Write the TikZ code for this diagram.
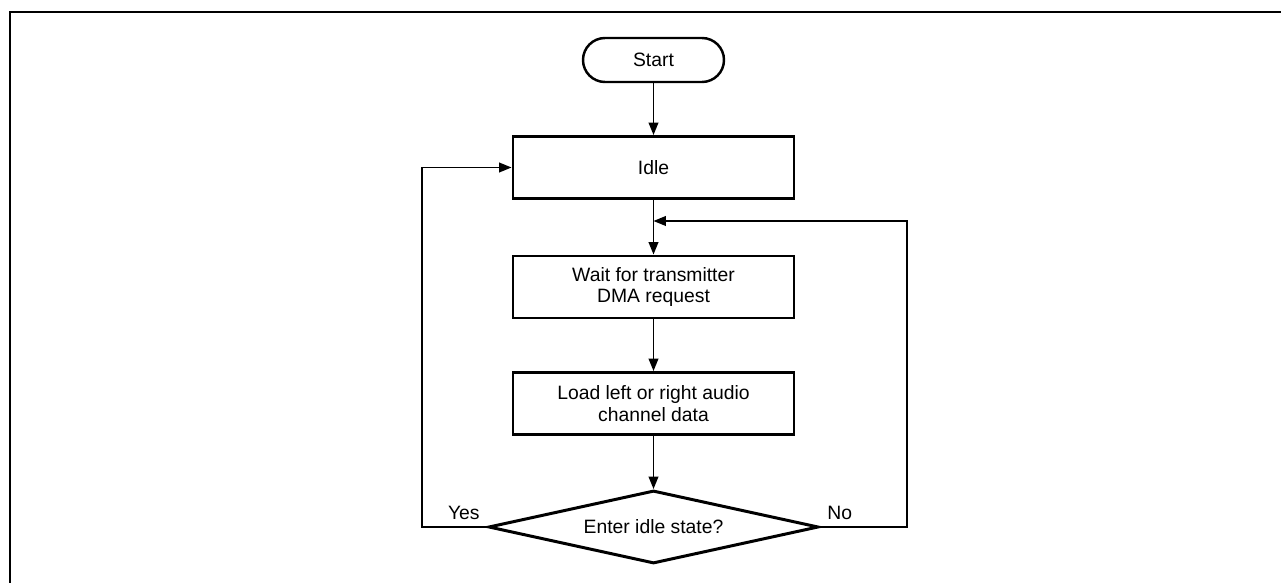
\documentclass[tikz,border=0pt]{standalone}
\usepackage{fontspec}
\setmainfont{Liberation Sans}
\usetikzlibrary{arrows.meta,shapes.geometric}

\begin{document}
\begin{tikzpicture}[>={Triangle[length=7pt,width=5.5pt]},
  flowbox/.style={draw,line width=1.7pt,minimum width=5.62cm,minimum height=1.24cm,
                  align=center,font=\fontsize{11}{12.5}\selectfont},
  flowterm/.style={draw,line width=1.4pt,rounded corners=0.44cm,minimum width=2.82cm,
                   minimum height=0.88cm,font=\fontsize{11}{12.5}\selectfont},
  flowtest/.style={draw,diamond,aspect=4.52,line width=1.7pt,inner sep=0pt,minimum width=6.6cm,
                   minimum height=1.46cm,font=\fontsize{11}{12.5}\selectfont},
  flowline/.style={line width=0.85pt},
  flowlabel/.style={font=\fontsize{11}{12.5}\selectfont,inner sep=2pt}]
% ---------- frame ----------
\useasboundingbox (0,0) rectangle (25.62,11.66);
\draw[line width=1.1pt] (0.2,0) -- (0.2,11.42) -- (25.62,11.42);
% ---------- nodes ----------
\node[flowterm] (start) at (13.07,10.46) {Start};
\node[flowbox]  (idle)  at (13.07,8.31)  {Idle};
\node[flowbox]  (wait)  at (13.07,5.92)  {Wait for transmitter\\DMA request};
\node[flowbox]  (load)  at (13.07,3.59)  {Load left or right audio\\channel data};
\node[flowtest] (enter) at (13.07,1.12)  {Enter idle state?};
% ---------- connectors ----------
\coordinate (join) at (13.07,7.24);
\draw[flowline,->] (start) -- (idle);
\draw[flowline,->] (idle) -- (wait);
\draw[flowline,->] (wait) -- (load);
\draw[flowline,->] (load) -- (enter);
% Yes: back to idle, No: back to wait
\draw[flowline,->] (enter.west) -- (8.44,1.12) |- (idle.west);
\draw[flowline,->] (enter.east) -- (18.14,1.12) |- (join);
\node[flowlabel,anchor=south east] (yes) at ([xshift=-2pt,yshift=2pt]enter.west) {Yes};
\node[flowlabel,anchor=south west] (no)  at ([xshift=2pt,yshift=2pt]enter.east) {No};
\end{tikzpicture}
\end{document}
